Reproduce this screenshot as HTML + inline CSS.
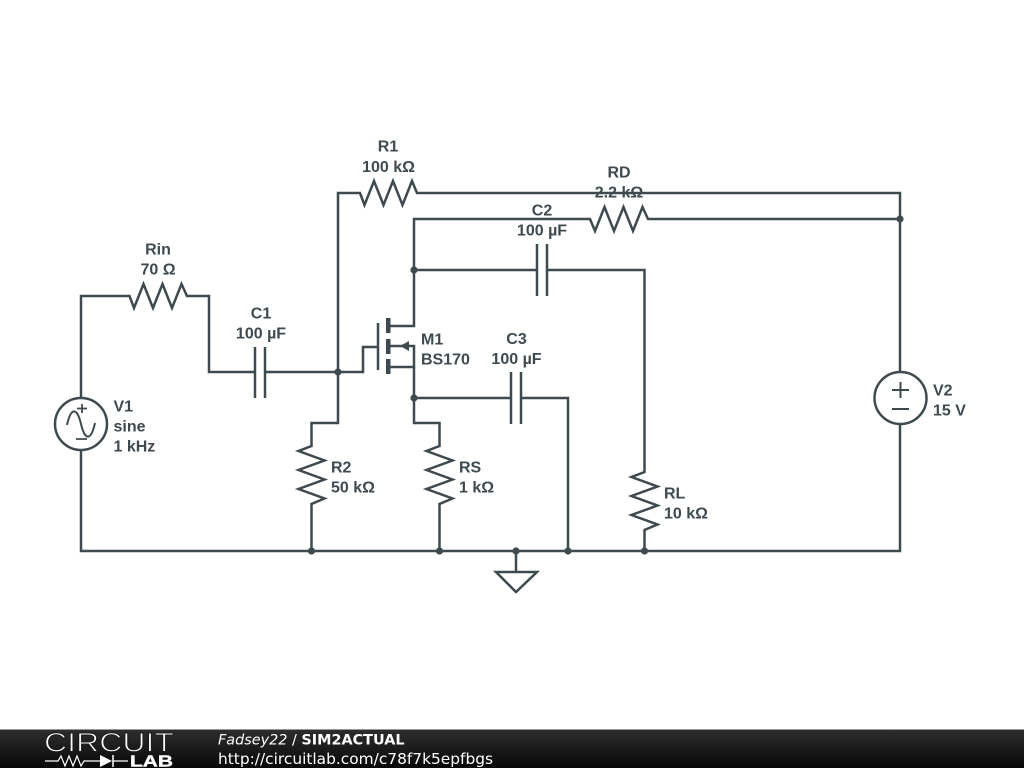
<!DOCTYPE html>
<html><head><meta charset="utf-8"><style>
html,body{margin:0;padding:0;background:#fff;width:1024px;height:768px;overflow:hidden}
svg{display:block;position:absolute;left:0;top:0}
.t{font:bold 16px "Liberation Sans",sans-serif;fill:#3d4a50}
.f{font:15.4px "DejaVu Sans",sans-serif;fill:#fff}
</style></head><body>
<svg width="1024" height="768" viewBox="0 0 1024 768">
<defs><linearGradient id="g" x1="0" y1="0" x2="0" y2="1"><stop offset="0" stop-color="#2e2e2e"/><stop offset="1" stop-color="#080808"/></linearGradient></defs>
<g fill="none" stroke="#3d4a50" stroke-width="2.5" stroke-linejoin="miter">
<!-- R1 -->
<path d="M338 372V193H360L364.500 205L374 181L383.500 205L393 181L402.500 205L412 181L417 193H900V372"/>
<!-- RD -->
<path d="M414 270V219H590L595 231L604.500 207L614 231L623.500 207L633 231L642.500 207L648 219H900"/>
<!-- Rin -->
<path d="M81 398V296H129.500L134 308L143.500 284L153 308L162.500 284L172 308L181.500 284L187 296H209V372H255"/>
<path d="M265 372H363V347H378"/>
<!-- C1 -->
<path d="M255 347V398M265 347V398"/>
<!-- C2 -->
<path d="M414 270H537M537 244V296M547 244V296M547 270H644.500V472L631.500 477L657.500 486.500L631.500 496L657.500 505.500L631.500 515L657.500 524.500L644.500 530V551"/>
<!-- C3 -->
<path d="M414 398H511M511 372V424M521 372V424M521 398H568V551"/>
<!-- R2 -->
<path d="M338 372V423H311.500V446L298.500 451L324.500 460.500L298.500 470L324.500 479.500L298.500 489L324.500 498.500L311.500 504V551"/>
<!-- RS -->
<path d="M414 367V423H439.500V446L426.500 451L452.500 460.500L426.500 470L452.500 479.500L426.500 489L452.500 498.500L439.500 504V551"/>
<!-- MOSFET -->
<path d="M378 323V370"/>
<path d="M388 326H414V270M388 346H414V367H388"/>
<!-- sources and rail -->
<path d="M81 450V551H900V424"/>
<path d="M516 551V572"/>
<path d="M496 572H537L516 592Z"/>
<circle cx="81" cy="424" r="26"/>
<circle cx="900.500" cy="398" r="26"/>
<path d="M82 404V413M77 408.500H87M76 439H87" stroke-width="1.8"/>
<path d="M67 425C71 407 77 407 81 424C85 441 91 441 95 423" stroke-width="2"/>
<path d="M892 390H909M900.500 382V398M892 409H909" stroke-width="2"/>
</g>
<g fill="#3d4a50">
<rect x="386" y="318" width="4.500" height="15"/>
<rect x="386" y="339" width="4.500" height="15"/>
<rect x="386" y="359" width="4.500" height="15"/>
<path d="M400 346L409 341V351Z"/>
<circle cx="900" cy="219" r="3.600"/>
<circle cx="414" cy="270" r="3.600"/>
<circle cx="338" cy="372" r="3.600"/>
<circle cx="414" cy="398" r="3.600"/>
<circle cx="311.500" cy="551" r="3.600"/>
<circle cx="439.500" cy="551" r="3.600"/>
<circle cx="516" cy="551" r="3.600"/>
<circle cx="568" cy="551" r="3.600"/>
<circle cx="644.500" cy="551" r="3.600"/>
</g>
<g class="t" text-anchor="middle">
<text class="t" x="388" y="151.500">R1</text>
<text class="t" x="388.500" y="172">100 kΩ</text>
<text class="t" x="619" y="177.500">RD</text>
<text class="t" x="619" y="197.500">2.2 kΩ</text>
<text class="t" x="542" y="215.500">C2</text>
<text class="t" x="542" y="235.500">100 µF</text>
<text class="t" x="158" y="254.500">Rin</text>
<text class="t" x="158" y="274.500">70 Ω</text>
<text class="t" x="261" y="318.500">C1</text>
<text class="t" x="261" y="338.500">100 µF</text>
<text class="t" x="516.500" y="344">C3</text>
<text class="t" x="516.500" y="364">100 µF</text>
</g>
<g class="t">
<text class="t" x="421" y="344.500">M1</text>
<text class="t" x="421" y="364.500">BS170</text>
<text class="t" x="113.500" y="411.500">V1</text>
<text class="t" x="113.500" y="431.500">sine</text>
<text class="t" x="113.500" y="451.500">1 kHz</text>
<text class="t" x="933" y="395.500">V2</text>
<text class="t" x="933" y="415.500">15 V</text>
<text class="t" x="331" y="472.500">R2</text>
<text class="t" x="331" y="492.500">50 kΩ</text>
<text class="t" x="459" y="472.500">RS</text>
<text class="t" x="459" y="492.500">1 kΩ</text>
<text class="t" x="664" y="498.500">RL</text>
<text class="t" x="664" y="518.500">10 kΩ</text>
</g>
<rect x="0" y="729" width="1024" height="39" fill="url(#g)"/>
<rect x="0" y="729" width="1024" height="1" fill="#999"/>
<text x="44" y="751.500" font-family="'Liberation Sans',sans-serif" font-size="27" fill="#fff" stroke="#1c1c1c" stroke-width="1" textLength="130" lengthAdjust="spacingAndGlyphs">CIRCUIT</text>
<path d="M45 761H58L61 756L65 766L69 756L73 766L77 756L81 766L84 761H100M113 761H128" fill="none" stroke="#fff" stroke-width="1.200"/>
<path d="M100 755L112 761L100 767Z" fill="#fff"/>
<path d="M113 755V767" stroke="#fff" stroke-width="1.500"/>
<text x="130" y="766.500" font-family="'Liberation Sans',sans-serif" font-weight="bold" font-size="16" stroke="#fff" stroke-width=".4" fill="#fff" textLength="43" lengthAdjust="spacingAndGlyphs">LAB</text>
<text class="f" x="218" y="744.500" style="font-size:14.4px"><tspan font-style="italic">Fadsey22</tspan> / <tspan font-weight="bold">SIM2ACTUAL</tspan></text>
<text class="f" x="218" y="764">http://circuitlab.com/c78f7k5epfbgs</text>
</svg>
</body></html>
